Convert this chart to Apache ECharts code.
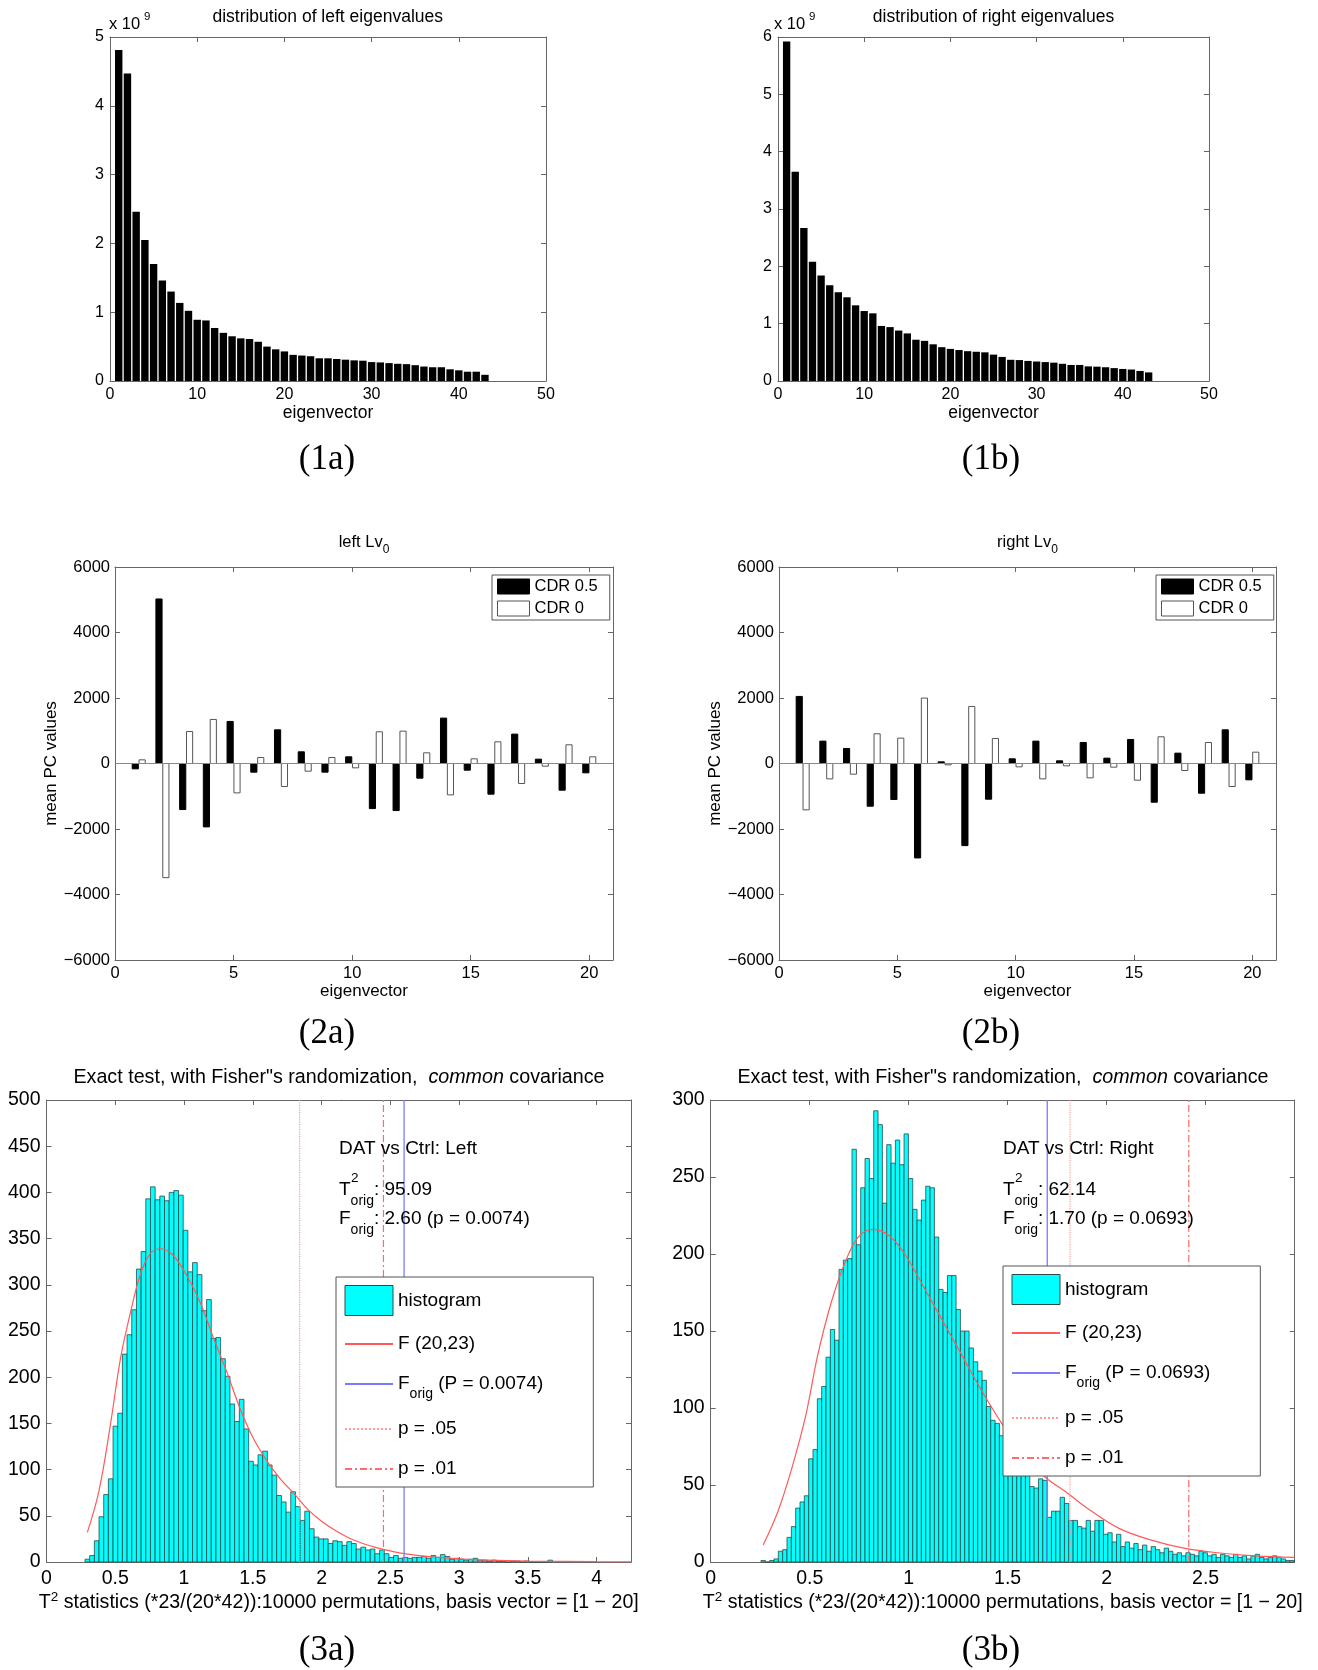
<!DOCTYPE html>
<html><head><meta charset="utf-8"><title>eigen charts</title>
<script src="https://cdn.jsdelivr.net/npm/echarts@6.0.0/dist/echarts.min.js"></script>
<style>html,body{margin:0;padding:0;background:#fff;}#c{width:1318px;height:1670px;}</style></head>
<body><div id="c"></div>
<script>
// ---------------- DATA ----------------
// eigenvalues, in units of 10^9
const eigLeft = [4.81,4.47,2.46,2.05,1.70,1.46,1.30,1.135,1.02,0.89,0.88,0.77,0.70,0.65,0.62,0.61,0.57,0.50,0.46,0.43,0.38,0.37,0.36,0.33,0.33,0.32,0.31,0.30,0.295,0.275,0.27,0.26,0.25,0.245,0.23,0.21,0.20,0.20,0.17,0.155,0.135,0.135,0.09];
const eigRight = [5.92,3.65,2.67,2.08,1.84,1.67,1.55,1.46,1.32,1.22,1.18,0.96,0.94,0.88,0.83,0.72,0.70,0.64,0.59,0.56,0.54,0.52,0.51,0.50,0.46,0.42,0.37,0.365,0.35,0.34,0.33,0.32,0.30,0.28,0.28,0.255,0.25,0.24,0.225,0.21,0.20,0.175,0.15];
// mean PC values, eigenvectors 1..20
const pcIndex = [1,2,3,4,5,6,7,8,9,10,11,12,13,14,15,16,17,18,19,20];
const leftCDR05 = [-163,5024,-1406,-1936,1284,-265,1029,357,-265,204,-1376,-1437,-448,1386,-204,-937,897,132,-815,-285];
const leftCDR0 = [112,-3485,978,1345,-897,183,-703,-234,183,-132,968,988,326,-958,143,662,-611,-82,571,204];
const rightCDR05 = [2048,683,459,-1304,-1100,-2884,51,-2507,-1090,143,683,82,642,163,734,-1182,316,-907,1029,-499];
const rightCDR0 = [-1416,-469,-326,907,774,1997,-41,1742,764,-102,-469,-71,-438,-112,-510,815,-214,642,-703,346];
// permutation histograms
const histLeftStart = 0.28, histLeftWidth = 0.034;
const histLeftCounts = [3,7,23,49,73,90,147,161,225,246,273,317,336,393,406,392,396,391,400,402,397,359,314,324,311,272,284,242,243,220,201,171,152,176,144,
 109,105,116,120,105,94,72,65,54,76,60,45,55,36,27,25,25,20,23,22,18,22,20,14,16,13,14,9,13,9,5,7,4,5,4,5,5,6,4,7,5,
 8,6,3,4,3,2,3,4,2,2,1,2,1,1,0,1,1,0,1,0,0,0,0,2];
const histRightStart = 0.254, histRightWidth = 0.0219;
const histRightCounts = [1,0,1,2,7,8,16,23,35,39,43,67,73,106,114,133,151,144,190,196,197,268,206,243,262,249,293,284,233,271,259,274,258,278,
 249,229,222,235,244,243,211,177,175,186,186,164,150,150,139,130,124,118,101,92,90,82,89,87,
 80,74,68,60,49,48,54,53,29,
 33,33,42,38,27,27,23,22,27,20,27,27,18,
 19,13,18,10,13,9,12,8,11,7,10,8,6,9,7,5,6,4,6,5,
 4,7,6,4,5,3,5,4,3,5,3,4,2,4,5,3,2,3,4,3,2,1,1];
// F(20,23) curves
const fLeftX = [0.297,0.38,0.46,0.54,0.62,0.68,0.75,0.83,0.92,1.02,1.12,1.21,1.31,1.41,1.5,1.6,1.7,1.8,1.9,2.0,2.1,2.2,2.3,2.4,2.5,2.6,2.8,3.0,3.2,3.5,4.0,4.25];
const fLeftY = [32,76,144,222,276,310,333,339,332,310,280,244,206,165,135,110,90,74,57,44,34,26,20,15.5,12,9,5.5,3.3,2,1,0.3,0.2];
const fRightX = [0.265,0.34,0.41,0.48,0.54,0.61,0.68,0.745,0.82,0.9,0.98,1.1,1.27,1.37,1.47,1.58,1.69,1.8,1.89,2.06,2.23,2.39,2.56,2.75,2.95];
const fRightY = [11,33,61,95,134,169,195,211,216,212,200,173,134,111,90,70,55,45,36,22,14,9,6,4,3];
const critLeft = {forig: 2.60, p05: 1.84, p01: 2.45};
const critRight = {forig: 1.70, p05: 1.815, p01: 2.415};

// ---------------- STYLE / LAYOUT ----------------
const FONT = 'Liberation Sans';
const SERIF = 'Liberation Serif';
const AX = '#666';
const grids = [
  {left:110, top:37, width:436, height:344},
  {left:778, top:37, width:431, height:344},
  {left:115, top:567, width:498, height:393},
  {left:779, top:567, width:497, height:393},
  {left:46.5, top:1100, width:584.5, height:462},
  {left:710.7, top:1100, width:584, height:462}
];
const minus = v => (v < 0 ? '\u2212' + (-v) : String(v));
const num = v => String(+v.toFixed(2));
const T2NAME = 'T{sup|2} statistics (*23/(20*42)):10000 permutations, basis vector = [1 \u2212 20]';
const panelAxes = [
  {x:{min:0,max:50,interval:10,fs:16,margin:6,name:'eigenvector',gap:22,nfs:17.5,fmt:num}, y:{min:0,max:5,interval:1,fs:16,margin:6,fmt:num}},
  {x:{min:0,max:50,interval:10,fs:16,margin:6,name:'eigenvector',gap:22,nfs:17.5,fmt:num}, y:{min:0,max:6,interval:1,fs:16,margin:6,fmt:num}},
  {x:{min:0,max:21,interval:5,fs:16.5,margin:5,name:'eigenvector',gap:21,nfs:17,fmt:num}, y:{min:-6000,max:6000,interval:2000,fs:16.5,margin:5,fmt:minus,name:'mean PC values',gap:52,nfs:17}},
  {x:{min:0,max:21,interval:5,fs:16.5,margin:5,name:'eigenvector',gap:21,nfs:17,fmt:num}, y:{min:-6000,max:6000,interval:2000,fs:16.5,margin:5,fmt:minus,name:'mean PC values',gap:52,nfs:17}},
  {x:{min:0,max:4.25,interval:0.5,fs:19.5,margin:7,name:T2NAME,gap:28,nfs:19.6,fmt:num}, y:{min:0,max:500,interval:50,fs:19.5,margin:6,fmt:num}},
  {x:{min:0,max:2.95,interval:0.5,fs:19.5,margin:7,name:T2NAME,gap:28,nfs:19.6,fmt:num}, y:{min:0,max:300,interval:50,fs:19.5,margin:6,fmt:num}}
];

const xAxes = [], yAxes = [];
function onTick(interval, fmt) {
  return v => { const k = v / interval; return Math.abs(k - Math.round(k)) > 1e-6 ? '' : fmt(v); };
}
panelAxes.forEach((p, gi) => {
  const common = (o) => Object.assign({
    gridIndex: gi, type: 'value',
    axisLine: {show: true, onZero: false, lineStyle: {color: AX, width: 1}},
    axisTick: {show: true, inside: true, length: 5, lineStyle: {color: AX, width: 1}},
    splitLine: {show: false}
  }, o);
  const x = p.x, y = p.y;
  xAxes.push(common({position:'bottom', min:x.min, max:x.max, interval:x.interval,
    axisLabel:{color:'#000', fontSize:x.fs, fontFamily:FONT, margin:x.margin, formatter:onTick(x.interval, x.fmt)},
    name:x.name, nameLocation:'middle', nameGap:x.gap,
    nameTextStyle:{color:'#000', fontSize:x.nfs, fontFamily:FONT, rich:{sup:{fontSize:13.5, fontFamily:FONT, color:'#000', padding:[0,0,12,0]}}}}));
  xAxes.push(common({position:'top', min:x.min, max:x.max, interval:x.interval, axisLabel:{show:false}}));
  const yl = {position:'left', min:y.min, max:y.max, interval:y.interval,
    axisLabel:{color:'#000', fontSize:y.fs, fontFamily:FONT, margin:y.margin, formatter:onTick(y.interval, y.fmt)}};
  if (y.name) Object.assign(yl, {name:y.name, nameLocation:'middle', nameGap:y.gap, nameTextStyle:{color:'#000', fontSize:y.nfs, fontFamily:FONT}});
  yAxes.push(common(yl));
  yAxes.push(common({position:'right', min:y.min, max:y.max, interval:y.interval, axisLabel:{show:false}}));
});

const series = [];
function barSeries(name, gi, xs, vs, width, offset, fill, stroke) {
  series.push({
    type:'custom', name, xAxisIndex:2*gi, yAxisIndex:2*gi, silent:true,
    data: xs.map((x, i) => [x, vs[i]]), encode:{x:0, y:1},
    renderItem: (params, api) => {
      const xc = api.value(0) + offset, v = api.value(1);
      const a = api.coord([xc - width/2, 0]), b = api.coord([xc + width/2, v]);
      return {type:'rect', shape:{x:a[0], y:Math.min(a[1], b[1]), width:b[0]-a[0], height:Math.abs(b[1]-a[1])},
        style:{fill, stroke: stroke || null, lineWidth: stroke ? 1 : 0}};
    }
  });
}
function histSeries(gi, start, width, counts) {
  series.push({
    type:'custom', name:'histogram', xAxisIndex:2*gi, yAxisIndex:2*gi, silent:true,
    itemStyle:{color:'#00ffff'},
    data: counts.map((c, i) => [start + i*width, start + (i+1)*width, c]), encode:{x:[0,1], y:2},
    renderItem: (params, api) => {
      const a = api.coord([api.value(0), 0]), b = api.coord([api.value(1), api.value(2)]);
      return {type:'rect', shape:{x:a[0], y:b[1], width:b[0]-a[0], height:a[1]-b[1]},
        style:{fill:'#00ffff', stroke:'#2d4a4a', lineWidth:0.8}};
    }
  });
}
function lineSeries(name, gi, pts, style, smooth) {
  series.push({type:'line', name, xAxisIndex:2*gi, yAxisIndex:2*gi, data:pts, symbol:'none', silent:true,
    smooth: smooth || false, lineStyle:style, itemStyle:{color:style.color}, z:3});
}

const idxL = eigLeft.map((v, i) => i + 1), idxR = eigRight.map((v, i) => i + 1);
barSeries('eigL', 0, idxL, eigLeft, 0.85, 0, '#000');
barSeries('eigR', 1, idxR, eigRight, 0.85, 0, '#000');
[[2, leftCDR05, leftCDR0], [3, rightCDR05, rightCDR0]].forEach(([gi, a, b]) => {
  lineSeries('zero' + gi, gi, [[0, 0], [21, 0]], {color:'#888', width:1});
  barSeries('CDR 0.5', gi, pcIndex, a, 0.26, -0.145, '#000', '#000');
  barSeries('CDR 0', gi, pcIndex, b, 0.26, 0.145, '#fff', '#555');
});
[[4, histLeftStart, histLeftWidth, histLeftCounts, fLeftX, fLeftY, critLeft, 500, 'ForigL'],
 [5, histRightStart, histRightWidth, histRightCounts, fRightX, fRightY, critRight, 300, 'ForigR']].forEach(
 ([gi, st, w, cnt, fx, fy, cr, ymax, fname]) => {
  histSeries(gi, st, w, cnt);
  lineSeries('F (20,23)', gi, fx.map((x, i) => [x, fy[i]]), {color:'#ff5a5a', width:1.2}, 0.35);
  lineSeries(fname, gi, [[cr.forig, 0], [cr.forig, ymax]], {color:'#7b7bff', width:1.3});
  lineSeries('p = .05', gi, [[cr.p05, 0], [cr.p05, ymax]], {color:'#ff9a9a', width:1.2, type:'dotted'});
  lineSeries('p = .01', gi, [[cr.p01, 0], [cr.p01, ymax]], {color:'#ff6a6a', width:1.2, type:[7,3,2,3]});
});

// legends
const legends = [];
[[492, 575], [1156, 575]].forEach(([l, t]) => legends.push({
  left:l, top:t, orient:'vertical', selectedMode:false, padding:[3,12,3,5],
  itemWidth:32, itemHeight:15, itemGap:5, borderColor:'#555', borderWidth:1, backgroundColor:'#fff',
  textStyle:{color:'#000', fontSize:16.5, fontFamily:FONT},
  data:[{name:'CDR 0.5', icon:'rect', itemStyle:{color:'#000', borderColor:'#000', borderWidth:1}},
        {name:'CDR 0', icon:'rect', itemStyle:{color:'#fff', borderColor:'#555', borderWidth:1}}]
}));
const noDot = {color:'rgba(0,0,0,0)', borderColor:'rgba(0,0,0,0)', borderWidth:0, opacity:0};
[[336, 1277, 'ForigL', '0.0074'], [1003, 1266, 'ForigR', '0.0693']].forEach(([l, t, fname, p]) => legends.push({
  left:l, top:t, orient:'vertical', selectedMode:false, padding:[8,50,6,8],
  itemWidth:48, itemHeight:30, itemGap:16, borderColor:'#555', borderWidth:1, backgroundColor:'#fff', z:10,
  textStyle:{color:'#000', fontSize:19, fontFamily:FONT,
    rich:{sub:{fontSize:14, fontFamily:FONT, color:'#000', padding:[20,0,0,0]}}},
  formatter: name => name === fname ? 'F{sub|orig} (P = ' + p + ')' : name,
  data:[{name:'histogram', icon:'rect', itemStyle:{color:'#00ffff', borderColor:'#2d4a4a', borderWidth:1}},
        {name:'F (20,23)', itemStyle:noDot}, {name:fname, itemStyle:noDot},
        {name:'p = .05', itemStyle:noDot}, {name:'p = .01', itemStyle:noDot}]
}));

// texts
const g = [];
function txt(x, y, text, o) {
  g.push({type:'text', x, y, silent:true, z:100,
    style:Object.assign({text, fill:'#000', fontSize:17.5, fontFamily:FONT, align:'center', verticalAlign:'middle'}, o || {})});
}
const subRich = (fs, pad) => ({sub:{fontSize:fs, fontFamily:FONT, fill:'#000', padding:[pad,0,0,0]}});
txt(327.7, 17, 'distribution of left eigenvalues');
txt(993.5, 17, 'distribution of right eigenvalues');
txt(109, 24.5, 'x 10', {align:'left', fontSize:16.5});
txt(144, 17, '9', {align:'left', fontSize:11.5});
txt(774, 24.5, 'x 10', {align:'left', fontSize:16.5});
txt(809, 17, '9', {align:'left', fontSize:11.5});
txt(364, 542, 'left Lv{sub|0}', {fontSize:16.5, rich:subRich(12, 16)});
txt(1027.5, 542, 'right Lv{sub|0}', {fontSize:16.5, rich:subRich(12, 16)});
const t3rich = {i:{fontStyle:'italic', fontSize:19.7, fontFamily:FONT, fill:'#000'}};
txt(339, 1078, 'Exact test, with Fisher"s randomization,  {i|common} covariance', {fontSize:19.7, rich:t3rich});
txt(1003, 1078, 'Exact test, with Fisher"s randomization,  {i|common} covariance', {fontSize:19.7, rich:t3rich});
[[339, 'DAT vs Ctrl: Left', '95.09', '2.60', '0.0074'], [1003, 'DAT vs Ctrl: Right', '62.14', '1.70', '0.0693']].forEach(([x, h, t2, f, p]) => {
  txt(x, 1149, h, {align:'left', fontSize:19});
  txt(x, 1190, 'T{sub|orig}: ' + t2, {align:'left', fontSize:19, rich:subRich(14, 22)});
  txt(x + 12, 1178, '2', {align:'left', fontSize:13.5});
  txt(x, 1219, 'F{sub|orig}: ' + f + ' (p = ' + p + ')', {align:'left', fontSize:19, rich:subRich(14, 22)});
});
[['(1a)', 327, 460], ['(1b)', 991, 460], ['(2a)', 327, 1034], ['(2b)', 991, 1034], ['(3a)', 327, 1651], ['(3b)', 991, 1651]]
  .forEach(([t, x, y]) => txt(x, y, t, {fontSize:35, fontFamily:SERIF}));

const chart = echarts.init(document.getElementById('c'));
chart.setOption({
  animation:false, backgroundColor:'#fff',
  grid: grids.map(gr => Object.assign({containLabel:false, show:false}, gr)),
  xAxis: xAxes, yAxis: yAxes, series, legend: legends, graphic: g
});
</script></body></html>
